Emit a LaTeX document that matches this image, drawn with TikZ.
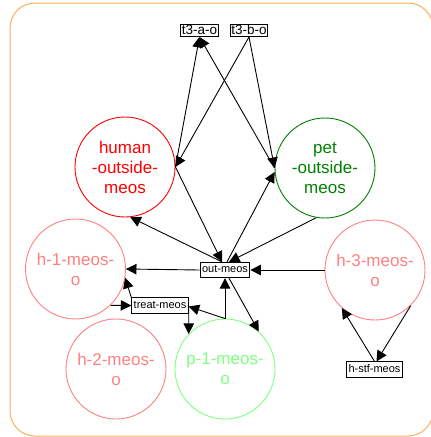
\documentclass[tikz,border=0pt]{standalone}
\usepackage{fontspec}
\setmainfont{Liberation Sans}
\usetikzlibrary{arrows.meta}
\definecolor{frameorange}{RGB}{255,172,90}
\definecolor{hred}{RGB}{255,0,0}
\definecolor{pgreen}{RGB}{0,128,0}
\definecolor{pinkish}{RGB}{255,128,128}
\definecolor{lightgreen}{RGB}{128,255,128}
\begin{document}
\begin{tikzpicture}[x=1pt,y=-1pt,
  arr/.style={-{Triangle[length=10.5pt,width=10.5pt]}, line width=0.9pt},
  circ/.style={circle, draw, line width=0.9pt, minimum size=100pt, inner sep=0pt,
    align=center, font=\fontsize{17}{20}\selectfont},
  lbox/.style={draw, line width=0.9pt, inner xsep=2pt, inner ysep=2.5pt,
    text height=8pt, text depth=2.3pt, font=\fontsize{11}{13}\selectfont},
  tbox/.style={draw, line width=0.9pt, inner xsep=1.2pt, inner ysep=0.4pt,
    text height=9.6pt, text depth=1.6pt, font=\fontsize{13.5}{15}\selectfont}]
\useasboundingbox (0,0) rectangle (431,437);
% outer frame
\draw[frameorange, line width=1pt, rounded corners=25pt] (10,3) rectangle (433,436);

% boxes
\node[tbox] (t3a) at (199.5,30.5) {t3-a-o};
\node[tbox] (t3b) at (249,30.5) {t3-b-o};
\node[lbox] (out) at (225,270) {out-meos};
\node[lbox] (treat) at (160,305.5) {treat-meos};
\node[lbox] (hstf) at (374.5,369.5) {h-stf-meos};

% compartments
\node[circ, draw=hred, text=hred] (human) at (125,167) {human\\-outside-\\meos};
\node[circ, draw=pgreen, text=pgreen] (pet) at (325,168) {pet\\-outside-\\meos};
\node[circ, draw=pinkish, text=pinkish] (h1) at (75.5,269) {h-1-meos-\\o};
\node[circ, draw=pinkish, text=pinkish] (h3) at (375,270) {h-3-meos-\\o};
\node[circ, draw=pinkish, text=pinkish] (h2) at (116,369) {h-2-meos-\\o};
\node[circ, draw=lightgreen, text=lightgreen] (p1) at (225,369) {p-1-meos-\\o};

% flows to and from the t3 boxes
\draw[arr] (human.east) -- (t3a.south);
\draw[arr] (pet.west) -- (t3a.south);
\draw[arr] (t3b.south) -- (human.east);
\draw[arr] (t3b.south) -- (pet.west);

% flows through out-meos
\draw[arr] (human.east) -- ([xshift=-3pt]out.north);
\draw[arr] ([xshift=-3pt]out.north) -- (human.-84);
\draw[arr] ([xshift=2pt]out.north) -- ([yshift=-4pt]pet.west);
\draw[arr] (pet.-100) -- ([xshift=4pt]out.north);
\draw[arr] (h3.west) -- (out.east);
\draw[arr] (out.west) -- (h1.east);
\draw[arr] ([xshift=4pt]out.south) -- (p1.48);
\draw[arr] (p1.north) -- (out.south);

% flows through treat-meos
\draw[arr] (treat.north west) -- (h1.-10);
\draw[arr] (h1.-46) -- (treat.west);
\draw[arr] (treat.east) -- (p1.136);
\draw[arr] (p1.north) -- ([yshift=-1pt]treat.east);

% flows through h-stf-meos
\draw[arr] (hstf.north) -- (h3.-131);
\draw[arr] (h3.-45) -- ([xshift=2pt]hstf.north);
\end{tikzpicture}
\end{document}
